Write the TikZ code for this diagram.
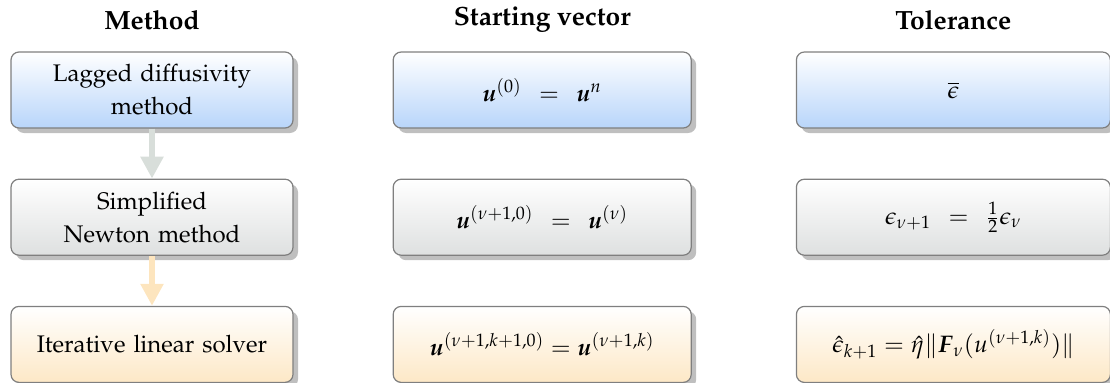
\documentclass[tikz,border=0pt,12pt]{standalone}
\usepackage[T1]{fontenc}
\usepackage{amsmath,amssymb}
\usepackage{mathpazo}
\usepackage{tikz}
\usetikzlibrary{positioning,arrows.meta,shadows}

\definecolor{boxline}{HTML}{7F7F7F}
\definecolor{blueend}{HTML}{B8D5FA}
\definecolor{grayend}{HTML}{DEE0E0}
\definecolor{orangeend}{HTML}{FDE8C6}
\definecolor{grayarrow}{HTML}{D8DEDA}
\definecolor{orangearrow}{HTML}{FDE5BE}

\tikzset{
  stepbox/.style={draw=boxline,line width=0.6pt,rounded corners=4pt,align=center,
    minimum height=38pt,inner sep=2pt,
    drop shadow={shadow xshift=2.5pt,shadow yshift=-2.5pt,fill=black!25,opacity=1}},
  methbox/.style={stepbox,minimum width=141pt,text width=135pt},
  startbox/.style={stepbox,minimum width=149pt},
  tolbox/.style={stepbox,minimum width=157pt},
  blueshade/.style={top color=white,bottom color=blueend},
  grayshade/.style={top color=white,bottom color=grayend},
  orangeshade/.style={top color=white,bottom color=orangeend},
  head/.style={font=\bfseries\fontsize{13.2}{16}\selectfont},
  flow/.style={line width=3pt,-{Triangle[width=11pt,length=11pt]}}
}

\begin{document}
\begin{tikzpicture}[node distance=25pt and 49.5pt]
  \useasboundingbox (0,0) rectangle (555pt,191pt);
  % method column
  \node[methbox,blueshade] (lag) at (76pt,146pt) {Lagged diffusivity\\[2pt]method};
  \node[methbox,grayshade,below=of lag] (newt) {Simplified\\[2pt]Newton method};
  \node[methbox,orangeshade,below=of newt] (iter) {Iterative linear solver};
  % starting vectors
  \node[startbox,blueshade,right=of lag] (sv1) {$\boldsymbol{u}^{(0)} \;\,=\;\, \boldsymbol{u}^{n}$};
  \node[startbox,grayshade,right=of newt] (sv2) {$\boldsymbol{u}^{(\nu+1,0)} \;\,=\;\, \boldsymbol{u}^{(\nu)}$};
  \node[startbox,orangeshade,right=of iter] (sv3) {$\boldsymbol{u}^{(\nu+1,k+1,0)} = \boldsymbol{u}^{(\nu+1,k)}$};
  % tolerances
  \node[tolbox,blueshade,right=52pt of sv1] (tol1) {$\overline{\epsilon}$};
  \node[tolbox,grayshade,right=52pt of sv2] (tol2) {$\epsilon_{\nu+1} \;\,=\;\, \tfrac{1}{2}\epsilon_{\nu}$};
  \node[tolbox,orangeshade,right=52pt of sv3] (tol3) {$\hat{\epsilon}_{k+1} = \hat{\eta}\|\boldsymbol{F}_{\nu}(u^{(\nu+1,k)})\|$};
  % headers
  \node[head] (hmeth) at (76pt,181pt) {Method};
  \node[head] (hstart) at (sv1 |- hmeth) {Starting vector};
  \node[head] (htol) at (tol1 |- hmeth) {Tolerance};
  % arrows
  \draw[flow,grayarrow] (lag) -- (newt);
  \draw[flow,orangearrow] (newt) -- (iter);
\end{tikzpicture}
\end{document}
